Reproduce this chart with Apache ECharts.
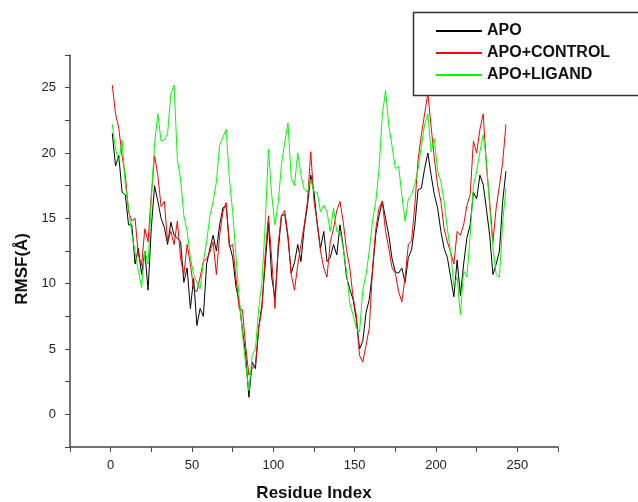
<!DOCTYPE html>
<html>
<head>
<meta charset="utf-8">
<script src="https://cdn.jsdelivr.net/npm/echarts@6/dist/echarts.min.js"></script>
<style>
html,body{margin:0;padding:0;background:#fff;}
#chart{width:638px;height:502px;}
</style>
</head>
<body>
<div id="chart"></div>
<script>
var residues = [1,3,5,7,9,11,13,15,17,19,21,23,25,27,29,31,33,35,37,39,41,43,45,47,49,51,53,55,57,59,61,63,65,67,69,71,73,75,77,79,81,83,85,87,89,91,93,95,97,99,101,103,105,107,109,111,113,115,117,119,121,123,125,127,129,131,133,135,137,139,141,143,145,147,149,151,153,155,157,159,161,163,165,167,169,171,173,175,177,179,181,183,185,187,189,191,193,195,197,199,201,203,205,207,209,211,213,215,217,219,221,223,225,227,229,231,233,235,237,239,241,243];

var apo = [21.5,19.0,19.8,17.0,16.8,14.5,14.5,11.5,12.7,10.7,12.5,9.5,14.3,17.5,16.3,15.0,14.3,13.0,14.7,13.7,13.5,13.2,10.1,11.2,8.1,10.4,6.8,8.1,7.5,11.5,12.7,13.7,12.5,14.5,15.8,16.0,13.0,12.0,9.8,8.6,6.5,4.5,1.3,4.0,3.5,6.6,8.4,11.5,14.7,10.5,8.9,12.5,15.2,15.3,13.5,10.8,11.6,13.0,11.7,14.3,16.0,18.3,17.0,14.5,12.7,14.0,11.7,12.0,13.0,12.2,14.5,12.8,10.5,9.6,8.8,7.3,5.0,5.6,7.8,8.8,11.0,13.8,15.2,16.3,15.0,13.7,11.9,10.9,10.8,11.2,10.1,12.0,12.6,14.5,17.2,17.3,18.8,20.0,18.3,16.8,15.8,14.0,12.7,12.0,10.5,9.0,11.8,9.1,11.5,13.5,14.5,17.0,16.5,18.3,17.6,15.7,13.7,10.7,11.5,12.5,16.3,18.6];

var apoControl = [25.2,23.0,21.9,19.8,18.3,15.5,14.8,15.0,12.2,11.4,14.2,13.2,16.8,19.8,18.3,15.9,16.3,13.2,14.0,13.0,14.8,11.9,10.7,13.0,11.5,9.6,9.4,10.5,11.7,11.9,12.4,13.2,10.7,13.7,15.5,16.2,12.8,13.0,10.5,8.1,8.0,5.2,3.0,3.5,3.8,6.6,8.1,12.2,15.2,11.9,8.1,13.0,15.2,15.6,13.7,10.7,9.5,11.4,13.0,14.5,16.3,20.1,16.3,14.7,12.5,11.2,10.5,13.2,14.2,15.6,16.3,14.7,12.6,11.2,9.0,7.6,4.5,4.0,5.3,6.6,11.2,14.2,15.8,16.3,14.0,12.7,11.2,10.8,9.4,8.6,10.5,13.0,13.3,16.0,19.5,21.4,23.0,24.6,22.0,19.6,17.5,16.3,14.2,13.2,12.4,11.5,14.0,13.7,14.5,16.0,16.8,20.9,20.0,21.8,23.0,19.0,16.3,13.2,15.8,17.5,19.3,22.2];

var apoLigand = [22.2,20.3,19.3,21.0,17.6,15.8,13.8,12.4,11.0,9.7,12.5,11.5,16.5,20.7,23.0,20.9,21.0,21.5,24.5,25.2,19.5,18.0,15.2,14.0,12.0,10.7,10.1,9.6,11.7,13.2,15.2,16.3,17.8,20.6,21.2,21.8,18.0,15.5,12.2,8.9,6.2,3.8,1.8,4.5,5.0,8.1,10.1,14.5,20.3,16.8,14.5,16.2,19.1,20.8,22.3,18.1,17.5,20.0,18.3,17.2,17.0,18.0,17.0,17.0,15.5,16.0,15.5,14.0,15.8,14.0,14.0,12.7,10.9,8.5,7.6,6.6,6.3,9.5,10.7,12.5,14.8,16.3,18.8,22.9,24.8,22.1,20.5,18.8,19.0,16.8,14.8,16.5,16.8,17.6,18.8,20.5,22.2,23.0,20.1,21.1,18.6,17.8,16.3,14.2,12.4,9.8,10.5,7.6,11.0,10.5,13.7,17.5,18.6,20.1,21.4,19.5,15.8,12.8,10.7,10.5,14.7,17.3];

var seriesNames = ['APO', 'APO+CONTROL', 'APO+LIGAND'];
var seriesColors = ['#000000', '#ff0000', '#00ff00'];
var xTickMin = -25, xTickMax = 275, xTickStep = 25;
var yTickMin = -2.5, yTickMax = 27.5, yTickStep = 2.5;
var xAxisTitle = 'Residue Index';
var yAxisTitle = 'RMSF(Å)';

function pairs(vals){ return residues.map(function(r,i){ return [r, vals[i]]; }); }
var allValues = [apo, apoControl, apoLigand];

var chart = echarts.init(document.getElementById('chart'), null, {renderer:'canvas'});
var FONT = 'Liberation Sans, Arial, sans-serif';
chart.setOption({
  animation: false,
  backgroundColor: '#ffffff',
  grid: {left: 70, right: 80, top: 55, bottom: 55, containLabel: false, outerBoundsMode: 'none'},
  legend: {
    orient: 'vertical',
    left: 413, top: 12,
    padding: [11, 20, 12, 23],
    itemGap: 6,
    itemWidth: 46, itemHeight: 2,
    icon: 'rect',
    z: 10,
    borderWidth: 0,
    backgroundColor: 'transparent',
    textStyle: {fontFamily: FONT, fontSize: 16, fontWeight: 'bold', color: '#111', lineHeight: 16},
    data: seriesNames
  },
  xAxis: {
    type: 'value', min: xTickMin, max: xTickMax, interval: xTickStep,
    name: xAxisTitle, nameLocation: 'middle', nameGap: 38,
    nameTextStyle: {fontFamily: FONT, fontSize: 17, fontWeight: 'bold', color: '#111'},
    axisLine: {show: true, onZero: false, lineStyle: {color: '#444', width: 1.5}},
    axisTick: {show: true, inside: false, length: 5, lineStyle: {color: '#444', width: 1}},
    axisLabel: {fontFamily: FONT, fontSize: 13, color: '#222', margin: 12,
      formatter: function(v){ return (v % 50 === 0) ? String(v) : ''; }},
    splitLine: {show: false}
  },
  yAxis: {
    type: 'value', min: yTickMin, max: yTickMax, interval: yTickStep,
    axisLine: {show: true, onZero: false, lineStyle: {color: '#444', width: 1.5}},
    axisTick: {show: true, inside: false, length: 5, lineStyle: {color: '#444', width: 1}},
    axisLabel: {fontFamily: FONT, fontSize: 13, color: '#222', margin: 14,
      formatter: function(v){ return (Math.abs(v % 5) < 1e-9) ? String(v) : ''; }},
    splitLine: {show: false}
  },
  graphic: [{
    type: 'rect', z: 5,
    shape: {x: 413.5, y: 12.5, width: 260, height: 83},
    style: {fill: '#ffffff', stroke: '#333', lineWidth: 1.5}
  }, {
    type: 'text', left: 14, top: 233, rotation: Math.PI/2,
    style: {text: yAxisTitle, font: 'bold 17px ' + FONT, fill: '#111'}
  }],
  series: seriesNames.map(function(n, i){
    return {
      name: n, type: 'line', data: pairs(allValues[i]),
      showSymbol: false, symbol: 'none',
      lineStyle: {color: seriesColors[i], width: 1},
      itemStyle: {color: seriesColors[i]}
    };
  })
});
</script>
</body>
</html>
